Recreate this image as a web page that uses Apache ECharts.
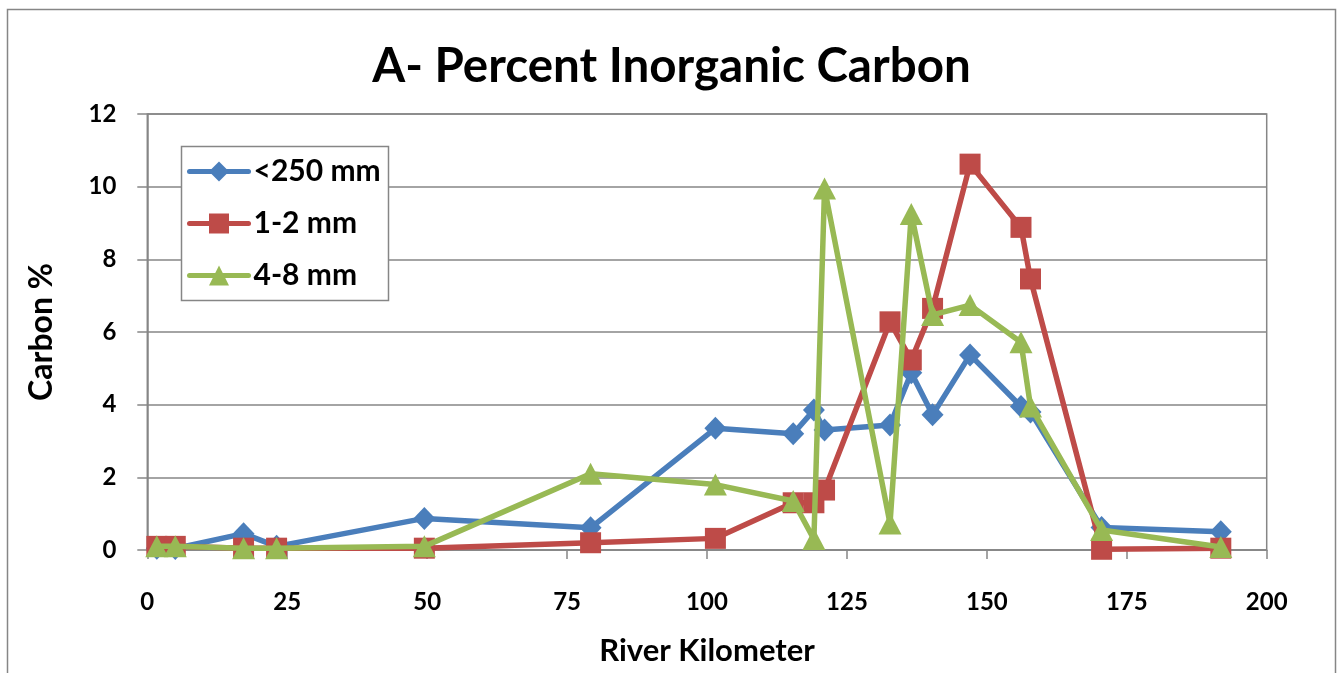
<!DOCTYPE html>
<html>
<head>
<meta charset="utf-8">
<script src="https://cdn.jsdelivr.net/npm/echarts@6/dist/echarts.min.js"></script>
<style>
  html, body { margin: 0; padding: 0; background: #ffffff; }
  #chart { width: 1343px; height: 673px; }
</style>
</head>
<body>
<div id="chart"></div>
<script>
const titleText = 'A- Percent Inorganic Carbon';
const seriesNames = ['<250 mm', '1-2 mm', '4-8 mm'];
const riverKm = [1.7, 5, 17.2, 23.1, 49.5, 79.2, 101.5, 115.4, 119.1, 121, 132.7, 136.5, 140.3, 147, 156.1, 157.8, 170.5, 191.8];
const fine = [0.05, 0.04, 0.45, 0.1, 0.87, 0.61, 3.35, 3.2, 3.85, 3.3, 3.44, 4.88, 3.72, 5.37, 3.95, 3.8, 0.62, 0.5];
const medium = [0.1, 0.1, 0.05, 0.05, 0.05, 0.2, 0.32, 1.3, 1.3, 1.65, 6.28, 5.23, 6.65, 10.62, 8.88, 7.46, 0.02, 0.05];
const coarse = [0.1, 0.1, 0.05, 0.05, 0.1, 2.1, 1.8, 1.35, 0.3, 9.95, 0.73, 9.25, 6.47, 6.74, 5.72, 3.95, 0.55, 0.08];
const xTicks = [0, 25, 50, 75, 100, 125, 150, 175, 200];
const yTicks = [0, 2, 4, 6, 8, 10, 12];

const FONT = 'Lato, "Open Sans", sans-serif';
const GRAY = '#868686';
const colors = ['#4A7EBB', '#BE4B48', '#98B954'];
const symbols = ['diamond', 'rect', 'triangle'];
const sizes = [[22, 23], 21, [23, 22]];
const values = [fine, medium, coarse];

function pairs(ys) { return riverKm.map((x, i) => [x, ys[i]]); }

const chart = echarts.init(document.getElementById('chart'), null, { renderer: 'canvas' });
chart.setOption({
  animation: false,
  backgroundColor: '#ffffff',
  title: {
    text: titleText,
    left: 'center',
    top: 38,
    textStyle: { fontFamily: FONT, fontWeight: 'bold', fontSize: 47.5, color: '#000' }
  },
  graphic: [
    { type: 'rect', shape: { x: 7.5, y: 9.5, width: 1328, height: 720 }, style: { fill: 'none', stroke: GRAY, lineWidth: 1.5 }, z: -10 },
    { type: 'rect', shape: { x: 181.5, y: 146.5, width: 207, height: 154 }, style: { fill: '#fff', stroke: GRAY, lineWidth: 1.5 }, z: 50 }
  ],
  legend: {
    data: seriesNames,
    orient: 'vertical',
    left: 187,
    top: 156.5,
    padding: 0,
    itemWidth: 59,
    itemHeight: 25,
    itemGap: 22,
    z: 60,
    lineStyle: { width: 5, cap: 'round' },
    textStyle: { fontFamily: FONT, fontWeight: 'bold', fontSize: 30, color: '#000', lineHeight: 30 }
  },
  grid: {
    left: 147.3, right: 76.3, top: 114, bottom: 123,
    show: true, borderColor: GRAY, borderWidth: 1.5, containLabel: false
  },
  xAxis: {
    type: 'value',
    min: 0, max: 200, interval: 25,
    name: 'River Kilometer',
    nameLocation: 'middle',
    nameGap: 85,
    nameTextStyle: { fontFamily: FONT, fontWeight: 'bold', fontSize: 31, color: '#000' },
    axisLine: { show: true, lineStyle: { color: GRAY, width: 1.5 } },
    axisTick: { show: true, length: 9, lineStyle: { color: GRAY, width: 1.5 } },
    splitLine: { show: false },
    axisLabel: {
      margin: 40,
      fontFamily: FONT, fontWeight: 'bold', fontSize: 24, color: '#000',
      formatter: v => xTicks.includes(v) ? String(v) : ''
    }
  },
  yAxis: {
    type: 'value',
    min: 0, max: 12, interval: 2,
    name: 'Carbon %',
    nameLocation: 'middle',
    nameGap: 90,
    nameTextStyle: { fontFamily: FONT, fontWeight: 'bold', fontSize: 32, color: '#000' },
    axisLine: { show: true, lineStyle: { color: GRAY, width: 1.5 } },
    axisTick: { show: true, length: 10, lineStyle: { color: GRAY, width: 1.5 } },
    splitLine: { show: true, lineStyle: { color: GRAY, width: 1.5 } },
    axisLabel: {
      margin: 31,
      fontFamily: FONT, fontWeight: 'bold', fontSize: 24, color: '#000',
      formatter: v => yTicks.includes(v) ? String(v) : ''
    }
  },
  series: seriesNames.map((name, i) => ({
    name,
    type: 'line',
    data: pairs(values[i]),
    symbol: symbols[i],
    symbolSize: sizes[i],
    showAllSymbol: true,
    lineStyle: { color: colors[i], width: 5.5 },
    itemStyle: { color: colors[i], borderWidth: 0 },
    z: 10 + i
  }))
});
</script>
</body>
</html>
